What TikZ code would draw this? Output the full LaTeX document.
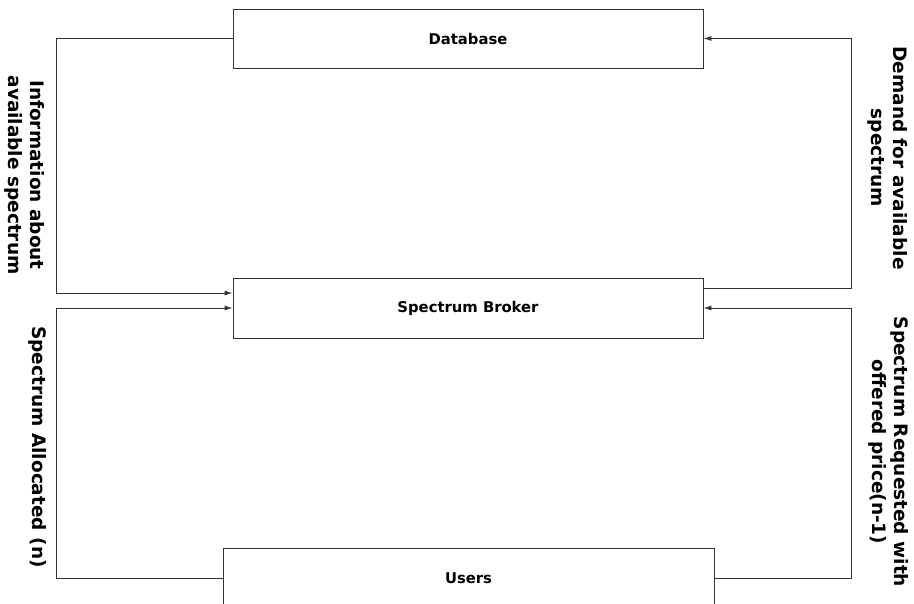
\documentclass[tikz,border=0pt]{standalone}
\usepackage{fontspec}
\setmainfont{DejaVu Sans}
\usetikzlibrary{arrows.meta}
\begin{document}
\begin{tikzpicture}[x=1pt,y=-1pt,
    block/.style={draw=black!80,line width=0.9pt,minimum width=470pt,minimum height=59pt,font=\fontsize{14.8}{17}\selectfont\bfseries},
    side/.style={rotate=-90,align=center,font=\fontsize{18.5}{22}\selectfont\bfseries},
    link/.style={draw=black!80,line width=0.9pt},
    every path/.style={>={Latex[length=8pt,width=5pt]}}]
      \useasboundingbox (0,0) rectangle (914,604);
      \clip (0,0) rectangle (914,604);
      \node[block] (db) at (468,38.5) {Database};
      \node[block,minimum height=60pt] (broker) at (468,308) {Spectrum Broker};
      \node[block,minimum width=491pt,minimum height=60pt] (users) at (468.5,578) {Users};
      \draw[link,->] (db.west) -- ++(-176,0) |- ([yshift=15pt]broker.west);
      \draw[link,->] ([yshift=20pt]broker.east) -- ++(148,0) |- (db.east);
      \draw[link,->] (users.west) -- ++(-166,0) |- (broker.west);
      \draw[link,->] (users.east) -- ++(137,0) |- (broker.east);
      \node[side] (info) at (25,175) {Information about\\available spectrum};
      \node[side] (demand) at (888,158) {Demand for available\\spectrum};
      \node[side] (alloc) at (38,447) {Spectrum Allocated (n)};
      \node[side] (request) at (889,452) {Spectrum Requested with\\offered price(n-1)};
    \end{tikzpicture}
\end{document}
